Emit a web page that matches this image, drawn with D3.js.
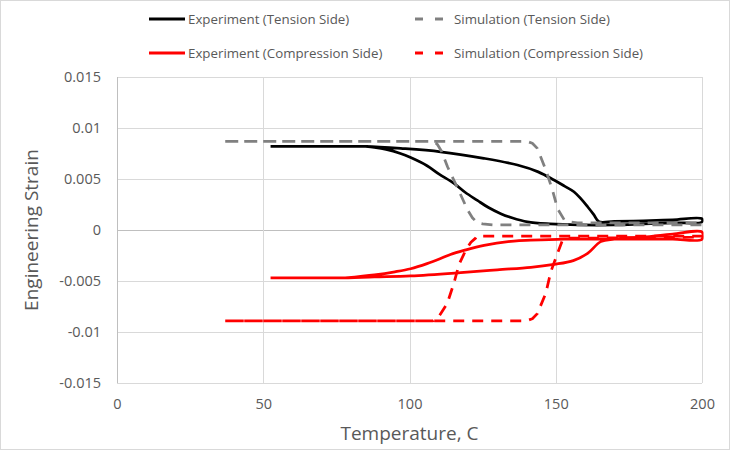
<html>
<head>
<meta charset="utf-8">
<title>Strain vs Temperature</title>
<style>
  body { margin: 0; background: #fff; }
  text { font-family: "Open Sans", "Liberation Sans", sans-serif; }
</style>
</head>
<body>
<script src="https://cdn.jsdelivr.net/npm/d3@7"></script>
<script>
// experiment, tension side (out along the upper branch, back along the lower one)
var expTensionT = [52.5, 60, 70, 80, 85, 97, 110.6, 125.4, 136.9, 144, 149.4, 153, 156.2, 158.8, 160.9, 163, 164.8, 170, 180, 190, 200,
                   200, 190, 180, 170, 158, 148, 140.3, 135, 131.2, 127, 123.2, 119, 115.1, 110, 106, 100.4, 96.9, 92, 88, 85];
var expTensionS = [0.0082, 0.0082, 0.0082, 0.0082, 0.0082, 0.0080, 0.00767, 0.00703, 0.00637, 0.0057, 0.0049, 0.0043, 0.00375, 0.0030, 0.00228, 0.0015, 0.0008, 0.00085, 0.0009, 0.001, 0.0011,
                   0.0008, 0.0007, 0.0006, 0.0005, 0.0005, 0.0006, 0.0008, 0.0012, 0.0016, 0.0022, 0.0029, 0.0037, 0.0046, 0.0055, 0.0063, 0.0071, 0.0075, 0.0079, 0.0081, 0.0082];

// simulation, tension side
var simTensionT = [37, 140, 142, 143.7, 146.6, 148.9, 150.6, 152.9, 155, 157.4, 200,
                   200, 128.8, 125, 123.2, 121.5, 119.8, 116.3, 113, 111, 109.5, 108.2, 37];
var simTensionS = [0.0087, 0.0087, 0.0085, 0.0080, 0.0059, 0.0039, 0.0021, 0.0010, 0.0008, 0.0007, 0.0007,
                   0.0005, 0.0005, 0.0006, 0.0007, 0.0012, 0.0020, 0.0042, 0.0062, 0.0077, 0.0084, 0.0087, 0.0087];

// experiment, compression side
var expCompT = [52.5, 60, 70, 76, 88, 100.4, 117.5, 130, 141.5, 149.4, 156, 160.9, 165.4, 170, 180, 190, 200,
                200, 190, 180, 165, 152.9, 141.5, 135.7, 125.5, 118.6, 114, 110.6, 106, 100.4, 95, 88, 78];
var expCompS = [-0.0047, -0.0047, -0.0047, -0.0047, -0.0046, -0.0045, -0.00418, -0.0039, -0.00366, -0.00337, -0.0030, -0.00229, -0.00114, -0.0009, -0.0007, -0.0004, -0.0002,
                -0.0009, -0.0009, -0.0009, -0.0009, -0.0009, -0.0010, -0.00108, -0.0015, -0.0020, -0.0024, -0.0028, -0.0033, -0.0038, -0.0041, -0.0044, -0.0047];

// simulation, compression side
var simCompT = [37, 140, 142, 143.7, 146.6, 148.3, 150.4, 152.3, 155, 200,
                200, 123, 122.6, 121, 119.2, 116.9, 115.2, 112.9, 110, 108, 37];
var simCompS = [-0.0089, -0.0089, -0.0087, -0.0082, -0.0062, -0.0041, -0.00245, -0.0010, -0.0008, -0.0007,
                -0.0006, -0.0006, -0.0008, -0.0012, -0.0020, -0.0034, -0.0052, -0.0072, -0.0085, -0.0089, -0.0089];

var xTicks = [0, 50, 100, 150, 200];
var yTicks = [-0.015, -0.01, -0.005, 0, 0.005, 0.01, 0.015];

var seriesNames = ["Experiment (Tension Side)", "Simulation (Tension Side)",
                   "Experiment (Compression Side)", "Simulation (Compression Side)"];
var seriesT = [expTensionT, simTensionT, expCompT, simCompT];
var seriesS = [expTensionS, simTensionS, expCompS, simCompS];
var seriesColor = ["#000000", "#808080", "#ff0000", "#ff0000"];
var seriesDash = [null, "11,8", null, "11,8"];
var seriesCurve = [d3.curveCatmullRom.alpha(0.5), d3.curveLinear, d3.curveCatmullRom.alpha(0.5), d3.curveLinear];

var W = 730, H = 450;
var svg = d3.select("body").append("svg")
    .attr("width", W)
    .attr("height", H);

// outer frame
svg.append("rect")
    .attr("x", 0.5).attr("y", 0.5)
    .attr("width", W - 1).attr("height", H - 1)
    .attr("fill", "#fff")
    .attr("stroke", "#d9d9d9");

var x = d3.scaleLinear().domain([0, 200]).range([117, 702]);
var y = d3.scaleLinear().domain([-0.015, 0.015]).range([383, 77]);

svg.append("clipPath").attr("id", "plot")
  .append("rect")
    .attr("x", x(0)).attr("y", y(0.015))
    .attr("width", x(200) - x(0) + 1.5).attr("height", y(-0.015) - y(0.015));

// grid
svg.append("g").selectAll("line").data(yTicks).enter().append("line")
    .attr("x1", x(0)).attr("x2", x(200))
    .attr("y1", function(d) { return Math.round(y(d)) + 0.5; })
    .attr("y2", function(d) { return Math.round(y(d)) + 0.5; })
    .attr("stroke", function(d) { return d === 0 ? "#bfbfbf" : "#d9d9d9"; })
    .attr("stroke-width", 1);
svg.append("g").selectAll("line").data(xTicks).enter().append("line")
    .attr("y1", y(-0.015)).attr("y2", y(0.015))
    .attr("x1", function(d) { return Math.round(x(d)) + 0.5; })
    .attr("x2", function(d) { return Math.round(x(d)) + 0.5; })
    .attr("stroke", function(d) { return d === 0 ? "#bfbfbf" : "#d9d9d9"; })
    .attr("stroke-width", 1);

// axes (labels only, Excel style)
var yAxis = d3.axisLeft(y).tickValues(yTicks).tickSize(0).tickPadding(16)
    .tickFormat(function(d) { return d === 0 ? "0" : String(+d.toFixed(3)); });
var gy = svg.append("g").attr("transform", "translate(" + x(0) + ",0)").call(yAxis);
gy.select(".domain").remove();
gy.selectAll("text").attr("fill", "#595959").style("font-size", "14.5px");

var xAxis = d3.axisBottom(x).tickValues(xTicks).tickSize(0).tickPadding(16);
var gx = svg.append("g").attr("transform", "translate(0," + y(-0.015) + ")").call(xAxis);
gx.select(".domain").remove();
gx.selectAll("text").attr("fill", "#595959").style("font-size", "14.5px");

// series
var plot = svg.append("g").attr("clip-path", "url(#plot)");
seriesNames.forEach(function(name, i) {
  var line = d3.line()
      .x(function(d) { return x(d[0]); })
      .y(function(d) { return y(d[1]); })
      .curve(seriesCurve[i]);
  var pts = d3.zip(seriesT[i], seriesS[i]);
  plot.append("path")
      .attr("d", line(pts))
      .attr("fill", "none")
      .attr("stroke", seriesColor[i])
      .attr("stroke-width", 2.75)
      .attr("stroke-linejoin", "round")
      .attr("stroke-dasharray", seriesDash[i]);
});

// axis titles
svg.append("text")
    .attr("x", (x(0) + x(200)) / 2).attr("y", 440)
    .attr("text-anchor", "middle")
    .attr("fill", "#595959")
    .style("font-size", "19px")
    .text("Temperature, C");

svg.append("text")
    .attr("transform", "translate(38," + y(0) + ") rotate(-90)")
    .attr("text-anchor", "middle")
    .attr("fill", "#595959")
    .style("font-size", "19px")
    .text("Engineering Strain");

// legend
var legX = [149, 415], legY = [19, 53];
seriesNames.forEach(function(name, i) {
  var lx = legX[i % 2], ly = legY[Math.floor(i / 2)];
  var g = svg.append("g").attr("transform", "translate(" + lx + "," + ly + ")");
  if (seriesDash[i]) {
    g.append("line").attr("x1", 0).attr("x2", 8).attr("y1", 0).attr("y2", 0)
        .attr("stroke", seriesColor[i]).attr("stroke-width", 3);
    g.append("line").attr("x1", 20).attr("x2", 28).attr("y1", 0).attr("y2", 0)
        .attr("stroke", seriesColor[i]).attr("stroke-width", 3);
  } else {
    g.append("line").attr("x1", 0).attr("x2", 36).attr("y1", 0).attr("y2", 0)
        .attr("stroke", seriesColor[i]).attr("stroke-width", 3);
  }
  g.append("text")
      .attr("x", 39).attr("y", 0)
      .attr("dy", "0.35em")
      .attr("fill", "#595959")
      .style("font-size", "13.3px")
      .text(name);
});
</script>
</body>
</html>
